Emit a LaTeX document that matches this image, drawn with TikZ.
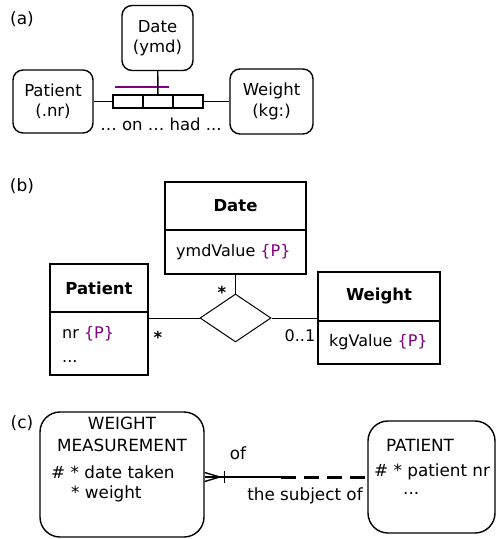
\documentclass[tikz,border=0pt]{standalone}
\usepackage{fontspec}
\setmainfont{DejaVu Sans}
\usetikzlibrary{shapes.geometric}
\definecolor{umlpurple}{RGB}{128,0,128}
\begin{document}
\begin{tikzpicture}[x=1pt,y=-1pt,
  fl/.style={font=\fontsize{17}{20}\selectfont},
  fa/.style={font=\fontsize{16.5}{20.5}\selectfont},
  fb/.style={font=\fontsize{16}{19}\selectfont},
  fbb/.style={font=\bfseries\fontsize{16.5}{19}\selectfont},
  fc/.style={font=\fontsize{16.8}{21}\selectfont},
  orm/.style={draw, rounded corners=10pt, line width=1.4pt, inner sep=0pt, align=center, fa},
  role/.style={draw, line width=1.4pt, minimum width=30pt, minimum height=13pt, inner sep=0pt},
  cls/.style={draw, line width=2pt, inner sep=0pt},
  ent/.style={draw, rounded corners=20pt, line width=1.4pt, inner sep=0pt},
  txt/.style={inner sep=0pt},
  conn/.style={line width=1.4pt},
  thin/.style={line width=1pt}
]
\useasboundingbox (0,0) rectangle (496,539);

% ---------- (a)
\node[txt, fl] (la) at (22,19) {(a)};
\node[orm, minimum width=71pt, minimum height=65pt] (adate) at (157.5,38) {Date\\(ymd)};
\node[orm, minimum width=80pt, minimum height=63pt] (apat) at (53,101.5) {Patient\\(.nr)};
\node[orm, minimum width=83pt, minimum height=65pt] (awt) at (271.5,101.5) {Weight\\(kg:)};
\node[role] (r1) at (128,101.5) {};
\node[role] (r2) at (158,101.5) {};
\node[role] (r3) at (188,101.5) {};
\draw[umlpurple, line width=2pt] (115,87) -- (169,87);
\draw[conn] (apat) -- (r1);
\draw[conn] (r3) -- (awt);
\draw[conn] (adate) -- (r2);
\node[txt, fa] (atext) at (161,124) {… on … had ...};

% ---------- (b)
\node[txt, fl] (lb) at (22,186) {(b)};
\node[cls, minimum width=141pt, minimum height=92pt] (dateC) at (235.5,228) {};
\draw[cls] (165,230) -- (306,230);
\node[cls, minimum width=98pt, minimum height=111pt] (patC) at (99,319.5) {};
\draw[cls] (50,312) -- (148,312);
\node[cls, minimum width=122pt, minimum height=92pt] (wtC) at (379,318) {};
\draw[cls] (318,321) -- (440,321);
\node[draw, thin, diamond, aspect=1.48, minimum width=71pt, minimum height=48pt, inner sep=0pt] (dia) at (235.5,318) {};
\draw[thin] (dateC) -- (dia);
\draw[thin] (dia) -- (wtC);
\draw[thin] (dia.west) -- (dia.west -| patC.east);

\node[txt, fbb] (tdate) at (235.5,206) {Date};
\node[txt, fb, anchor=west] (tymd) at (176,252) {ymdValue \textcolor{umlpurple}{\{P\}}};
\node[txt, fbb] (tpat) at (99,288) {Patient};
\node[txt, fb, anchor=west] (tnr) at (62,334) {nr \textcolor{umlpurple}{\{P\}}};
\node[txt, fb, anchor=west] (tdots) at (62,362) {...};
\node[txt, fbb] (twt) at (379,296.5) {Weight};
\node[txt, fb, anchor=west] (tkg) at (329,342) {kgValue \textcolor{umlpurple}{\{P\}}};

\node[txt, fbb] (m1) at (222,292) {*};
\node[txt, fbb] (m2) at (158,337) {*};
\node[txt, fb] (m3) at (300,336) {0..1};

% ---------- (c)
\node[txt, fl] (lc) at (22,423) {(c)};
\node[ent, minimum width=164pt, minimum height=125pt] (wm) at (122,474.5) {};
\node[ent, minimum width=127pt, minimum height=112pt] (pat) at (431.5,477) {};
\node[txt, fc] (twm1) at (122,423) {WEIGHT};
\node[txt, fc] (twm2) at (122,445) {MEASUREMENT};
\node[txt, fc, anchor=west] (twm3) at (51,472) {\# * date taken};
\node[txt, fc, anchor=west] (twm4) at (71,494) {* weight};
\node[txt, fc] (tp1) at (420,445) {PATIENT};
\node[txt, fc, anchor=west] (tp2) at (374,472) {\# * patient nr};
\node[txt, fc, anchor=west] (tp3) at (403,493) {...};

\coordinate (e) at (wm.east |- pat.west);
\draw[conn] (e) -- ++(76,0) coordinate (mid);
\draw[line width=3pt, dash pattern=on 15pt off 8pt] (mid) -- (pat.west);
\draw[conn] ([yshift=4.5pt]e) -- ([xshift=15pt]e) -- ([yshift=-4.5pt]e);
\draw[conn] ([xshift=20pt,yshift=6pt]e) -- ([xshift=20pt,yshift=-6pt]e);
\node[txt, fc] (lof) at (238,453) {of};
\node[txt, fc] (lsub) at (305,496) {the subject of};
\end{tikzpicture}
\end{document}
